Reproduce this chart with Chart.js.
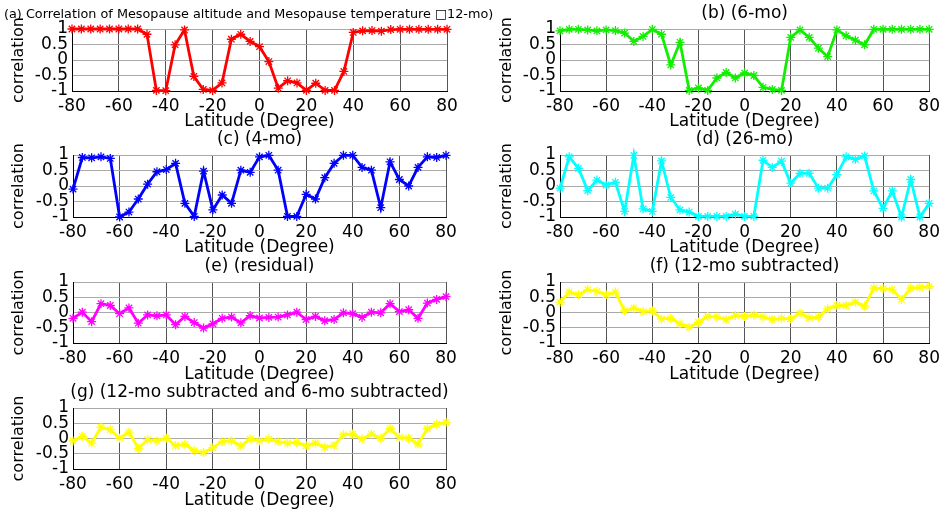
<!DOCTYPE html>
<html>
<head>
<meta charset="utf-8">
<script src="https://cdn.jsdelivr.net/npm/chart.js@4"></script>
<style>
  body { margin: 0; background: #fff; }
  #app { position: relative; width: 945px; height: 512px; overflow: hidden; }
  #app canvas { position: absolute; }
</style>
</head>
<body>
<div id="app"></div>
<script>
// latitude grid, 4 degree steps
const latitudes = []
for (let lat = -80; lat <= 80; lat += 4) latitudes.push(lat)

const xTicks = [-80, -60, -40, -20, 0, 20, 40, 60, 80]
const yTicks = [-1, -0.5, 0, 0.5, 1]

const corr12mo = [1, 1, 1, 1, 1, 1, 1, 1, 0.83, -0.98, -0.99, 0.49, 0.97, -0.53, -0.95, -0.98, -0.74, 0.67, 0.83, 0.6, 0.43, -0.05, -0.91, -0.67, -0.74, -0.98, -0.75, -0.98, -0.98, -0.37, 0.89, 0.94, 0.95, 0.93, 0.98, 0.99, 0.99, 0.99, 0.99, 0.99, 0.99]
const corr6mo = [0.94, 0.99, 0.99, 0.97, 0.94, 0.97, 0.95, 0.87, 0.6, 0.76, 0.99, 0.83, -0.16, 0.57, -0.98, -0.9, -0.98, -0.58, -0.4, -0.58, -0.42, -0.5, -0.88, -0.95, -0.98, 0.73, 0.97, 0.73, 0.38, 0.11, 0.97, 0.78, 0.64, 0.49, 0.99, 0.99, 0.99, 0.99, 0.99, 0.99, 0.99]
const corr4mo = [-0.1, 0.92, 0.91, 0.94, 0.89, -1, -0.84, -0.42, 0.06, 0.46, 0.53, 0.73, -0.56, -0.98, 0.48, -0.77, -0.29, -0.56, 0.51, 0.44, 0.94, 0.99, 0.51, -0.98, -0.98, -0.27, -0.42, 0.27, 0.73, 0.99, 0.99, 0.6, 0.51, -0.7, 0.78, 0.21, 0, 0.6, 0.94, 0.92, 0.99]
const corr26mo = [-0.07, 0.94, 0.57, -0.15, 0.19, 0.03, 0.12, -0.82, 0.99, -0.74, -0.82, 0.81, -0.37, -0.77, -0.84, -0.98, -0.98, -0.98, -0.98, -0.91, -0.98, -0.98, 0.83, 0.6, 0.8, 0.09, 0.41, 0.41, -0.07, -0.07, 0.37, 0.94, 0.86, 0.97, -0.16, -0.72, -0.16, -1, 0.21, -1, -0.56]
const corrResidual = [-0.19, 0.01, -0.3, 0.29, 0.23, -0.04, 0.15, -0.35, -0.08, -0.11, -0.08, -0.4, -0.13, -0.33, -0.51, -0.37, -0.19, -0.15, -0.34, -0.1, -0.18, -0.16, -0.15, -0.08, 0.01, -0.23, -0.13, -0.27, -0.23, -0.01, -0.04, -0.16, 0.01, -0.01, 0.29, 0.03, 0.09, -0.19, 0.31, 0.43, 0.52]
const corrNo12 = [0.34, 0.67, 0.58, 0.75, 0.69, 0.58, 0.67, 0.05, 0.14, 0.03, 0.05, -0.21, -0.19, -0.37, -0.48, -0.32, -0.13, -0.15, -0.23, -0.1, -0.13, -0.08, -0.15, -0.23, -0.19, -0.21, -0.02, -0.18, -0.15, 0.12, 0.23, 0.23, 0.34, 0.21, 0.8, 0.78, 0.75, 0.43, 0.8, 0.82, 0.86]
const corrNo12No6 = [-0.08, 0.07, -0.15, 0.37, 0.29, 0.01, 0.21, -0.32, -0.04, -0.08, 0.01, -0.23, -0.19, -0.4, -0.46, -0.3, -0.1, -0.08, -0.24, -0.02, -0.08, -0.02, -0.1, -0.15, -0.13, -0.24, -0.15, -0.29, -0.23, 0.12, 0.15, -0.02, 0.14, 0.01, 0.32, 0.04, 0.01, -0.18, 0.32, 0.47, 0.53]

const panels = [
  { title: '(a) Correlation of Mesopause altitude and Mesopause temperature \u25A112-mo)', small: true,
    data: corr12mo, color: '#ff0000', left: 0, top: 0, width: 520, area: [72, 447, 62] },
  { title: '(b) (6-mo)', data: corr6mo, color: '#11ee00', left: 488, top: 0, width: 457, area: [72, 444, 62] },
  { title: '(c) (4-mo)', data: corr4mo, color: '#0000ff', left: 0, top: 126, width: 470, area: [73, 446, 62] },
  { title: '(d) (26-mo)', data: corr26mo, color: '#00ffff', left: 488, top: 126, width: 457, area: [72, 444, 62] },
  { title: '(e) (residual)', data: corrResidual, color: '#ff00ff', left: 0, top: 253, width: 470, area: [73, 446, 61] },
  { title: '(f) (12-mo subtracted)', data: corrNo12, color: '#ffff00', left: 488, top: 253, width: 457, area: [72, 444, 61] },
  { title: '(g) (12-mo subtracted and 6-mo subtracted)', data: corrNo12No6, color: '#ffff00', left: 0, top: 379, width: 470, area: [73, 446, 61] },
]

const CANVAS_H = 130
const AREA_TOP = 29

Chart.defaults.font.family = "'DejaVu Sans', sans-serif"
Chart.defaults.color = '#000'

// panel caption above the plot box
const caption = {
  id: 'caption',
  afterDraw(chart, args, opts) {
    const { ctx, chartArea } = chart
    ctx.save()
    ctx.fillStyle = '#000'
    ctx.textBaseline = 'middle'
    if (opts.small) {
      ctx.font = "12.8px 'DejaVu Sans'"
      ctx.textAlign = 'left'
      ctx.fillText(opts.text, 4, 15)
    } else {
      ctx.font = "17px 'DejaVu Sans'"
      ctx.textAlign = 'center'
      ctx.fillText(opts.text, (chartArea.left + chartArea.right) / 2, chartArea.top - 15)
    }
    ctx.restore()
  }
}

const app = document.getElementById('app')

panels.forEach((p, i) => {
  const canvas = document.createElement('canvas')
  canvas.id = 'panel' + i
  canvas.width = p.width
  canvas.height = CANVAS_H
  canvas.style.left = p.left + 'px'
  canvas.style.top = p.top + 'px'
  app.appendChild(canvas)

  const [areaLeft, areaRight, areaH] = p.area
  new Chart(canvas.getContext('2d'), {
    type: 'line',
    data: {
      datasets: [{
        data: latitudes.map((lat, k) => ({ x: lat, y: p.data[k] })),
        borderColor: p.color,
        backgroundColor: p.color,
        borderWidth: 2.8,
        pointStyle: 'star',
        pointRadius: 4.5,
        pointBorderWidth: 1.3,
        tension: 0,
        clip: false,
      }]
    },
    options: {
      responsive: false,
      animation: false,
      devicePixelRatio: 1,
      layout: { padding: { left: 0, top: AREA_TOP, right: p.width - areaRight, bottom: 0 } },
      plugins: {
        legend: { display: false },
        tooltip: { enabled: false },
        caption: { text: p.title, small: !!p.small },
      },
      scales: {
        x: {
          type: 'linear',
          min: -80, max: 80,
          afterBuildTicks: scale => { scale.ticks = xTicks.map(v => ({ value: v })) },
          afterFit: scale => { scale.height = CANVAS_H - AREA_TOP - areaH },
          ticks: { font: { size: 17 }, padding: 5, maxRotation: 0, autoSkip: false },
          grid: { color: '#555', lineWidth: 1, drawTicks: false },
          border: { color: '#000', width: 1 },
          title: { display: true, text: 'Latitude (Degree)', font: { size: 17 }, padding: { top: 0, bottom: -2 } },
        },
        y: {
          min: -1, max: 1,
          afterBuildTicks: scale => { scale.ticks = yTicks.map(v => ({ value: v })) },
          afterFit: scale => { scale.width = areaLeft },
          ticks: { font: { size: 17 }, padding: 4, autoSkip: false, callback: v => String(v) },
          grid: { color: '#aaa', lineWidth: 1, drawTicks: false },
          border: { color: '#000', width: 1 },
          title: { display: true, text: 'correlation', font: { size: 16 }, padding: { top: 9, bottom: 0 } },
        }
      }
    },
    plugins: [caption]
  })
})
</script>
</body>
</html>
